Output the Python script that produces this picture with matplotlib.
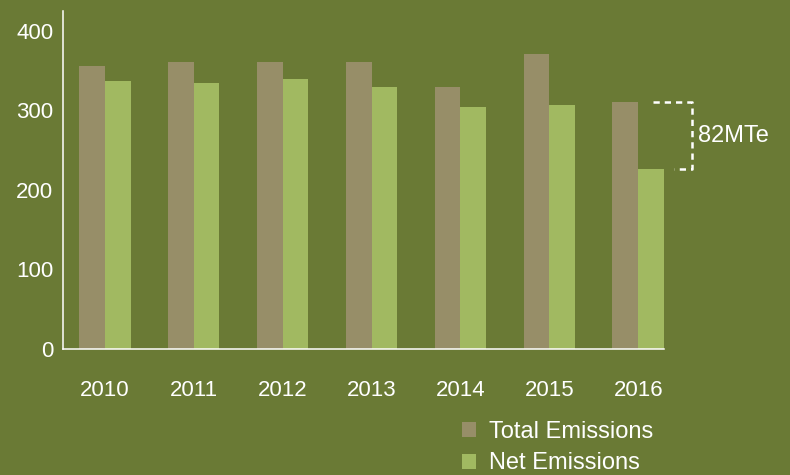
import matplotlib.pyplot as plt
import numpy as np

years = ['2010', '2011', '2012', '2013', '2014', '2015', '2016']
total_emissions = [356, 361, 361, 361, 330, 371, 310]
net_emissions = [337, 334, 340, 330, 304, 307, 226]
gap_label = '82MTe'

bg = '#6a7a35'
c_total = '#978e68'
c_net = '#a1b961'

plt.rcParams['font.family'] = ['Liberation Sans', 'DejaVu Sans']

fig = plt.figure(figsize=(7.9, 4.75), dpi=100, facecolor=bg)
ax = fig.add_axes([63 / 790, 1 - 349 / 475, (664 - 63) / 790, (349 - 11) / 475])
ax.set_facecolor(bg)

x = np.arange(len(years))
w = 0.29
ax.bar(x - w / 2, total_emissions, w, color=c_total, label='Total Emissions')
ax.bar(x + w / 2, net_emissions, w, color=c_net, label='Net Emissions')

ax.set_xlim(-0.47, len(years) - 1 + w)
ax.set_ylim(0, 425)
ax.set_yticks([0, 100, 200, 300, 400])
ax.set_xticks(x)
ax.set_xticklabels(years)
ax.tick_params(length=0, colors='white', labelsize=16)
ax.tick_params(axis='x', pad=22)
ax.tick_params(axis='y', pad=7)
for s in ['top', 'right']:
    ax.spines[s].set_visible(False)
for s in ['left', 'bottom']:
    ax.spines[s].set_color('white')
    ax.spines[s].set_linewidth(1.1)

# bracket showing the gap in 2016
top = total_emissions[-1]
bot = net_emissions[-1]
xr = 6.6
ax.plot([6.17, xr, xr, 6.40], [top, top, bot, bot], color='white', lw=1.8,
        ls=(0, (2.5, 2)), clip_on=False)
ax.text(xr + 0.07, (top + bot) / 2, gap_label, color='white', fontsize=17,
        va='center', ha='left', clip_on=False)

fig.legend(loc='upper left', bbox_to_anchor=(462 / 790, 1 - 421 / 475),
           frameon=False, fontsize=17, labelcolor='white', handlelength=0.6,
           handleheight=0.6, handletextpad=0.55, borderpad=0, borderaxespad=0,
           labelspacing=0.4)

fig.savefig('out.png', dpi=100, facecolor=bg)
